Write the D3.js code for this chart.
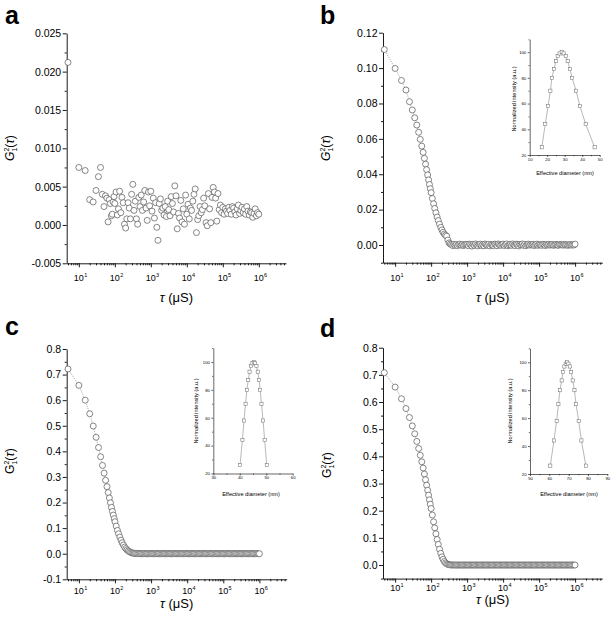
<!DOCTYPE html>
<html><head><meta charset="utf-8">
<script src="https://cdn.jsdelivr.net/npm/d3@7"></script>
<style>body{margin:0;background:#fff}svg{display:block}</style>
</head><body><svg id="chart" width="614" height="619"></svg>
<script>
// ---------------- data ----------------
const tau = [5,10,15,20,25,30,35,40,45,50,55,60,65,70,75,80,85,90,95,100,
108,117,126,136,147,158,171,185,200,215,233,251,271,293,316,341,369,398,430,464,501,541,584,631,681,736,794,858,926,
1000,1080,1170,1260,1360,1470,1580,1710,1850,2000,2150,2330,2510,2710,2930,3160,3410,3690,3980,4300,4640,5010,5410,5840,6310,6810,7360,7940,8580,9260,
10000,10800,11700,12600,13600,14700,15800,17100,18500,20000,21500,23300,25100,27100,29300,31600,34100,36900,39800,43000,46400,50100,54100,58400,63100,68100,73600,79400,85800,92600,
100000,108000,117000,126000,136000,147000,158000,171000,185000,200000,215000,233000,251000,271000,293000,316000,341000,369000,398000,430000,464000,501000,541000,584000,631000,681000,736000,794000,858000,926000,1000000];

const seriesA = [0.0212,0.0075,0.0071,0.0033,0.0030,0.0045,0.0063,0.0075,0.0040,0.0024,0.0038,0.0035,0.0004,0.0033,0.0028,0.0012,0.0014,0.0030,0.0037,0.0028,
0.0043,0.0013,0.0021,0.0044,0.0016,0.0036,0.0029,0.0001,-0.0004,0.0008,0.0029,0.0022,0.0008,0.0040,0.0053,0.0019,0.0031,0.0008,0.0001,0.0036,0.0024,0.0039,0.0019,0.0030,0.0045,0.0022,0.0006,0.0043,0.0025,
0.0044,0.0018,0.0035,0.0009,0.0029,-0.0003,-0.0020,0.0028,0.0034,0.0019,0.0022,0.0013,0.0024,0.0011,0.0031,0.0020,0.0012,0.0037,0.0028,0.0017,0.0051,0.0038,-0.0005,0.0015,0.0009,0.0032,0.0004,0.0021,0.0001,0.0039,
0.0014,0.0027,0.0008,0.0022,0.0019,0.0031,0.0040,0.0047,-0.0010,0.0007,0.0012,0.0024,0.0016,0.0020,0.0035,0.0025,0.0003,-0.0001,0.0041,0.0021,0.0003,0.0036,0.0049,0.0043,0.0035,0.0005,0.0041,0.0020,0.0026,0.0016,
0.0023,0.0014,0.0021,0.0018,0.0015,0.0023,0.0019,0.0014,0.0024,0.0022,0.0017,0.0013,0.0021,0.0026,0.0015,0.0019,0.0023,0.0016,0.0021,0.0014,0.0024,0.0018,0.0013,0.0017,0.0016,0.0010,0.0015,0.0021,0.0012,0.0016,0.0014];

const seriesB = [0.1105,0.0998,0.0930,0.0876,0.0810,0.0763,0.0719,0.0678,0.0637,0.0597,0.0559,0.0524,0.0490,0.0457,0.0426,0.0396,0.0368,0.0342,0.0318,0.0296,
0.0263,0.0233,0.0207,0.0182,0.0158,0.0138,0.0118,0.0100,0.0085,0.0072,0.0062,0.0055,0.0050,0.0028,0.0012,0.0006,0.0002,-0.0003,0.0004,-0.0002,0.0003,-0.0004,0.0002,0.0005,-0.0001,0.0003,-0.0003,0.0001,0.0004,
0.0003,-0.0004,0.0005,0.0001,-0.0006,0.0004,-0.0002,0.0006,0.0000,-0.0005,0.0003,0.0005,-0.0003,0.0002,-0.0004,0.0006,0.0001,-0.0002,0.0004,-0.0005,0.0003,0.0000,-0.0003,0.0005,0.0002,-0.0004,0.0006,0.0001,-0.0002,0.0003,
0.0005,-0.0003,0.0002,0.0006,-0.0004,0.0001,0.0004,-0.0002,0.0006,0.0000,-0.0003,0.0005,0.0002,-0.0005,0.0003,0.0001,0.0006,-0.0002,0.0004,-0.0004,0.0002,0.0005,-0.0001,0.0003,0.0000,0.0004,-0.0003,0.0002,0.0005,-0.0002,
0.0003,0.0001,-0.0002,0.0004,0.0002,-0.0003,0.0003,0.0000,0.0004,-0.0001,0.0002,0.0003,-0.0002,0.0001,0.0004,0.0000,-0.0002,0.0003,0.0001,0.0002,-0.0001,0.0003,0.0000,0.0002,-0.0002,0.0001,0.0003,-0.0001,0.0002,0.0000,0.0005];

const seriesC = [0.722,0.658,0.600,0.547,0.499,0.455,0.415,0.379,0.345,0.315,0.287,0.262,0.239,0.218,0.199,0.181,0.165,0.151,0.137,0.125,
0.108,0.091,0.078,0.065,0.053,0.043,0.034,0.026,0.020,0.015,0.011,0.0078,0.0054,0.0036,0.0023,0.0015,0.0009,0.0005,0.0003,0.0001,0,0,0,0,0,0,0,0,0,
0,0,0,0,0,0,0,0,0,0,0,0,0,0,0,0,0,0,0,0,0,0,0,0,0,0,0,0,0,0,
0,0,0,0,0,0,0,0,0,0,0,0,0,0,0,0,0,0,0,0,0,0,0,0,0,0,0,0,0,0,
0,0,0,0,0,0,0,0,0,0,0,0,0,0,0,0,0,0,0,0,0,0,0,0,0,0,0,0,0,0,0];

const seriesD = [0.708,0.655,0.612,0.576,0.543,0.512,0.483,0.455,0.429,0.404,0.380,0.357,0.335,0.314,0.294,0.275,0.257,0.240,0.224,0.208,
0.184,0.159,0.137,0.115,0.094,0.076,0.058,0.043,0.030,0.021,0.013,0.0078,0.0043,0.0022,0.0011,0.0005,0.0002,0.0001,0,0,0,0,0,0,0,0,0,0,0,
0,0,0,0,0,0,0,0,0,0,0,0,0,0,0,0,0,0,0,0,0,0,0,0,0,0,0,0,0,0,
0,0,0,0,0,0,0,0,0,0,0,0,0,0,0,0,0,0,0,0,0,0,0,0,0,0,0,0,0,0,
0,0,0,0,0,0,0,0,0,0,0,0,0,0,0,0,0,0,0,0,0,0,0,0,0,0,0,0,0,0,0];

// size distributions (insets)
const insetIntensity = [26,44,58,70,80,87,93,97,99,100,99,97,93,87,80,70,58,44,26];
const insetDiamB = [16.9,18.9,20.5,21.8,22.7,23.9,25.0,26.0,27.1,28.3,29.4,30.6,31.7,33.0,34.2,36.5,38.7,42.0,47.1];
const insetDiamC = [40.1,41.0,41.6,42.2,42.7,43.2,43.7,44.3,44.8,45.3,45.8,46.3,46.8,47.3,47.7,48.2,48.8,49.4,50.2];
const insetDiamD = [60.5,62.4,63.8,64.7,65.5,66.4,67.1,67.8,68.5,69.2,69.9,70.6,71.3,72.1,73.0,73.8,75.2,76.6,78.9];

// tick labels
const xTickExponents = [1,2,3,4,5,6];
const yTicksA = [-0.005,0,0.005,0.010,0.015,0.020,0.025];
const yMinorA = [-0.0025,0.0025,0.0075,0.0125,0.0175,0.0225];
const yTicksB = [0,0.02,0.04,0.06,0.08,0.10,0.12];
const yMinorB = [-0.01,0.01,0.03,0.05,0.07,0.09,0.11];
const yTicksC = [-0.1,0,0.1,0.2,0.3,0.4,0.5,0.6,0.7,0.8];
const yMinorC = [-0.05,0.05,0.15,0.25,0.35,0.45,0.55,0.65,0.75];
const yTicksD = [0,0.1,0.2,0.3,0.4,0.5,0.6,0.7,0.8];
const yMinorD = [-0.05,0.05,0.15,0.25,0.35,0.45,0.55,0.65,0.75];
const insetYTicks = [20,40,60,80,100];
const insetYMinor = [30,50,70,90,110];
const insetXTicksB = [10,20,30,40,50];
const insetXTicksC = [30,40,50,60];
const insetXTicksD = [50,60,70,80,90];

// ---------------- drawing ----------------
const FONT = '"Liberation Sans", Arial, Helvetica, sans-serif';
const svg = d3.select('#chart');
svg.append('rect').attr('width',614).attr('height',619).attr('fill','#fff');

const panels = [
 {label:'a', lx:5, ly:24, xr:[66.7,286], yr:[263.3,33.3], yd:[-0.005,0.025], major:yTicksA, minor:yMinorA, dec:3,
  vals:seriesA, line:false, xlabBase:281, xtitleBase:302, ytx:14, yty:148, italicG:true, inset:null},
 {label:'b', lx:320, ly:24, xr:[383,602.3], yr:[262.7,32.7], yd:[-0.01,0.12], major:yTicksB, minor:yMinorB, dec:2,
  vals:seriesB, line:true, xlabBase:281, xtitleBase:302, ytx:330, yty:148, italicG:true,
  inset:{xr:[529.7,599.7], yr:[155,39.3], xd:[10,50], xt:insetXTicksB, diam:insetDiamB, ytx:516, yty:99, xtx:565, xty:174.5}},
 {label:'c', lx:5, ly:335, xr:[66.7,286.7], yr:[579.3,349], yd:[-0.1,0.8], major:yTicksC, minor:yMinorC, dec:1,
  vals:seriesC, line:true, xlabBase:594, xtitleBase:608, ytx:14, yty:461, italicG:false,
  inset:{xr:[213.3,292.7], yr:[473.5,348], xd:[30,60], xt:insetXTicksC, diam:insetDiamC, ytx:198, yty:411, xtx:251, xty:495.5}},
 {label:'d', lx:320, ly:337, xr:[383,602.3], yr:[578.6,347.7], yd:[-0.05,0.8], major:yTicksD, minor:yMinorD, dec:1,
  vals:seriesD, line:true, xlabBase:591, xtitleBase:604, ytx:331, yty:465, italicG:false,
  inset:{xr:[530,607.3], yr:[474,348.3], xd:[50,90], xt:insetXTicksD, diam:insetDiamD, ytx:512, yty:411, xtx:569, xty:496}}
];

function styleAxis(sel, fs){
  sel.attr('font-family',null).attr('font-size',null);
  sel.selectAll('path,line').attr('stroke','#000').attr('stroke-width',0.9);
  sel.selectAll('text').attr('font-family',FONT).attr('font-size',fs).attr('fill','#000');
}

panels.forEach(p=>{
  const g = svg.append('g');
  const x = d3.scaleLog().domain([4.6,5.7e6]).range(p.xr);
  const y = d3.scaleLinear().domain(p.yd).range(p.yr);

  // panel letter
  g.append('text').attr('x',p.lx).attr('y',p.ly).text(p.label)
    .attr('font-family',FONT).attr('font-weight','bold').attr('font-size',25);

  // y axis
  g.append('g').attr('transform',`translate(${p.xr[0]},0)`)
    .call(d3.axisLeft(y).tickValues(p.major).tickFormat(v=>v.toFixed(p.dec)).tickSize(4).tickPadding(1.5).tickSizeOuter(0))
    .call(s=>styleAxis(s,10.5));
  g.append('g').attr('transform',`translate(${p.xr[0]},0)`)
    .call(d3.axisLeft(y).tickValues(p.minor).tickFormat(()=>'').tickSize(2).tickSizeOuter(0))
    .call(s=>{styleAxis(s,10.5); s.select('.domain').remove();});

  // x axis
  const majorX = xTickExponents.map(e=>Math.pow(10,e));
  const minorX = [];
  for(let e=0;e<=6;e++) for(let m=2;m<=9;m++){ const v=m*Math.pow(10,e); if(v>=4.6 && v<=5.7e6) minorX.push(v); }
  g.append('g').attr('transform',`translate(0,${p.yr[0]})`)
    .call(d3.axisBottom(x).tickValues(majorX).tickFormat(()=>'').tickSize(4).tickSizeOuter(0))
    .call(s=>styleAxis(s,9));
  g.append('g').attr('transform',`translate(0,${p.yr[0]})`)
    .call(d3.axisBottom(x).tickValues(minorX).tickFormat(()=>'').tickSize(2).tickSizeOuter(0))
    .call(s=>{styleAxis(s,9); s.select('.domain').remove();});
  xTickExponents.forEach(e=>{
    const px = x(Math.pow(10,e));
    g.append('text').attr('x',px).attr('y',p.xlabBase).attr('text-anchor','middle')
      .attr('font-family',FONT).attr('font-size',9).text('10');
    g.append('text').attr('x',px+5.3).attr('y',p.xlabBase-4.5)
      .attr('font-family',FONT).attr('font-size',5.5).text(String(e));
  });

  // axis titles
  const xt = g.append('text').attr('x',(p.xr[0]+p.xr[1])/2).attr('y',p.xtitleBase)
    .attr('text-anchor','middle').attr('font-family',FONT).attr('font-size',13);
  xt.append('tspan').attr('font-style','italic').text('τ');
  xt.append('tspan').text(' (μS)');

  const yt = g.append('text').attr('transform',`translate(${p.ytx},${p.yty}) rotate(-90)`)
    .attr('text-anchor','middle').attr('font-family',FONT).attr('font-size',12);
  yt.append('tspan').attr('font-style',p.italicG?'italic':'normal').text('G');
  yt.append('tspan').attr('font-size',7).attr('dy',3).text('1');
  yt.append('tspan').attr('font-size',7).attr('dx',-3.9).attr('dy',-8.5).text('2');
  yt.append('tspan').attr('dy',5.5).text('(');
  yt.append('tspan').attr('font-style','italic').text('τ');
  yt.append('tspan').text(')');

  // data
  const pts = tau.map((t,i)=>({t, v:p.vals[i]}));
  if(p.line){
    g.append('path').datum(pts)
      .attr('d',d3.line().x(d=>x(d.t)).y(d=>y(d.v)))
      .attr('fill','none').attr('stroke','#777').attr('stroke-width',0.7).attr('stroke-dasharray','1,1.2');
  }
  g.append('g').selectAll('circle').data(pts).join('circle')
    .attr('cx',d=>x(d.t)).attr('cy',d=>y(d.v)).attr('r',3)
    .attr('fill','#fff').attr('stroke','#555').attr('stroke-width',0.7);

  // inset
  if(p.inset){
    const q = p.inset;
    const ix = d3.scaleLinear().domain(q.xd).range(q.xr);
    const iy = d3.scaleLinear().domain([20,110]).range(q.yr);
    const ig = g.append('g');
    const minorIX = q.xt.slice(0,-1).map(v=>v+5);
    ig.append('g').attr('transform',`translate(0,${q.yr[0]})`)
      .call(d3.axisBottom(ix).tickValues(q.xt).tickFormat(d3.format('d')).tickSize(2).tickPadding(1).tickSizeOuter(0))
      .call(s=>{styleAxis(s,4.2); s.selectAll('path,line').attr('stroke-width',0.6);});
    ig.append('g').attr('transform',`translate(0,${q.yr[0]})`)
      .call(d3.axisBottom(ix).tickValues(minorIX).tickFormat(()=>'').tickSize(1.2).tickSizeOuter(0))
      .call(s=>{styleAxis(s,4.2); s.select('.domain').remove(); s.selectAll('line').attr('stroke-width',0.6);});
    ig.append('g').attr('transform',`translate(${q.xr[0]},0)`)
      .call(d3.axisLeft(iy).tickValues(insetYTicks).tickFormat(d3.format('d')).tickSize(2).tickPadding(1.5).tickSizeOuter(0))
      .call(s=>{styleAxis(s,4.2); s.selectAll('path,line').attr('stroke-width',0.6);});
    ig.append('g').attr('transform',`translate(${q.xr[0]},0)`)
      .call(d3.axisLeft(iy).tickValues(insetYMinor).tickFormat(()=>'').tickSize(1.2).tickSizeOuter(0))
      .call(s=>{styleAxis(s,4.2); s.select('.domain').remove(); s.selectAll('line').attr('stroke-width',0.6);});
    ig.append('text').attr('x',q.xtx).attr('y',q.xty).attr('text-anchor','middle')
      .attr('font-family',FONT).attr('font-size',5.6).text('Effective diameter (nm)');
    ig.append('text').attr('transform',`translate(${q.ytx},${q.yty}) rotate(-90)`).attr('text-anchor','middle')
      .attr('font-family',FONT).attr('font-size',5.6).text('Normalized intensity (a.u.)');
    const ipts = q.diam.map((dv,i)=>({d:dv, v:insetIntensity[i]}));
    ig.append('path').datum(ipts).attr('d',d3.line().x(d=>ix(d.d)).y(d=>iy(d.v)))
      .attr('fill','none').attr('stroke','#888').attr('stroke-width',0.6);
    ig.append('g').selectAll('rect').data(ipts).join('rect')
      .attr('x',d=>ix(d.d)-1.6).attr('y',d=>iy(d.v)-1.6).attr('width',3.2).attr('height',3.2)
      .attr('fill','#fff').attr('stroke','#666').attr('stroke-width',0.5);
  }
});
</script>
</body></html>
